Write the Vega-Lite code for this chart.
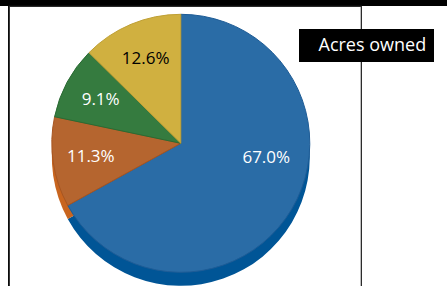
{
  "$schema": "https://vega.github.io/schema/vega-lite/v6.json",
  "background": "black",
  "padding": 0,
  "spacing": 0,
  "config": {
    "font": "Open Sans",
    "view": {"stroke": null}
  },
  "datasets": {
    "acres": [
      {"category": "A", "pct": 0.670},
      {"category": "B", "pct": 0.113},
      {"category": "C", "pct": 0.091},
      {"category": "D", "pct": 0.126}
    ]
  },
  "vconcat": [
    {
      "width": 447,
      "height": 5,
      "view": {"stroke": null},
      "data": {"values": []},
      "mark": "rule",
      "encoding": {}
    },
    {
      "spacing": 0,
      "hconcat": [
        {
          "width": 8,
          "height": 281,
          "view": {"fill": "white", "stroke": null},
          "data": {"values": []},
          "mark": "rule",
          "encoding": {}
        },
        {
          "width": 352,
          "height": 281,
          "view": {"fill": "white", "stroke": "#2a2a2a", "strokeWidth": 1.2},
          "data": {"name": "acres"},
          "layer": [
            {
              "mark": {"type": "arc", "outerRadius": 129, "xOffset": -4.2, "yOffset": 10.3},
              "encoding": {
                "theta": {"field": "pct", "type": "quantitative", "stack": true},
                "order": {"field": "category", "sort": "ascending"},
                "fill": {
                  "field": "category", "type": "nominal", "legend": null,
                  "scale": {"domain": ["A", "B", "C", "D"], "range": ["#005596", "#c8651f", "#2a6b33", "#c0a030"]}
                }
              }
            },
            {
              "mark": {"type": "arc", "outerRadius": 129, "xOffset": -4.2, "yOffset": -3.2, "strokeWidth": 1},
              "encoding": {
                "theta": {"field": "pct", "type": "quantitative", "stack": true},
                "order": {"field": "category", "sort": "ascending"},
                "color": {
                  "field": "category", "type": "nominal", "legend": null,
                  "scale": {"domain": ["A", "B", "C", "D"], "range": ["#2a6ca6", "#b5652f", "#357b3f", "#d0b040"]}
                },
                "stroke": {
                  "field": "category", "type": "nominal", "legend": null,
                  "scale": {"domain": ["A", "B", "C", "D"], "range": ["#1e5c96", "#a85520", "#2a6b33", "#bfa035"]}
                }
              }
            },
            {
              "mark": {"type": "text", "xOffset": -4.2, "yOffset": -3.2, "fontSize": 17, "baseline": "middle", "align": "center"},
              "encoding": {
                "theta": {"field": "pct", "type": "quantitative", "stack": true},
                "order": {"field": "category", "sort": "ascending"},
                "detail": {"field": "category", "type": "nominal"},
                "radius": {"value": 91},
                "text": {"field": "pct", "format": ".1%", "condition": {"test": "datum.category === 'A'", "value": ""}},
                "color": {"condition": {"test": "datum.category === 'D'", "value": "black"}, "value": "white"}
              }
            },
            {
              "mark": {"type": "text", "xOffset": -4.2, "yOffset": -3.2, "dx": 8, "dy": -31.4, "fontSize": 17, "baseline": "middle", "align": "center", "color": "white"},
              "encoding": {
                "theta": {"field": "pct", "type": "quantitative", "stack": true},
                "order": {"field": "category", "sort": "ascending"},
                "detail": {"field": "category", "type": "nominal"},
                "radius": {"value": 90},
                "text": {"field": "pct", "format": ".1%", "condition": {"test": "datum.category !== 'A'", "value": ""}}
              }
            },
            {
              "mark": {"type": "point", "opacity": 0},
              "encoding": {
                "shape": {
                  "datum": "Acres owned",
                  "legend": {
                    "title": null,
                    "orient": "none",
                    "legendX": 299,
                    "legendY": 29,
                    "fillColor": "black",
                    "padding": 7.5,
                    "labelColor": "white",
                    "labelFont": "Open Sans",
                    "labelFontSize": 18,
                    "labelLimit": 300,
                    "labelOffset": -6,
                    "symbolOpacity": 0,
                    "symbolSize": 4
                  }
                }
              }
            }
          ],
          "resolve": {"scale": {"color": "independent", "fill": "independent", "theta": "shared"}}
        },
        {
          "width": 87,
          "height": 281,
          "view": {"fill": "white", "stroke": null},
          "data": {"values": []},
          "mark": "rule",
          "encoding": {}
        }
      ]
    }
  ]
}
